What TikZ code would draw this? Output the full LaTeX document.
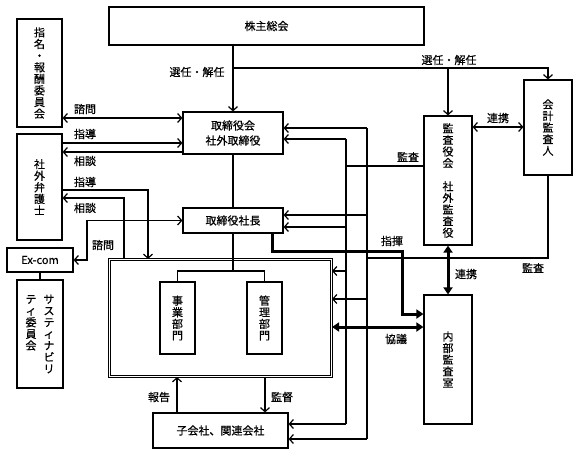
\documentclass[tikz,border=0pt]{standalone}
\usepackage{fontspec}
\newfontfamily\jp[FakeBold=0.5]{Noto Sans CJK JP}
\usetikzlibrary{arrows.meta}
\newcommand\jpf{\jp\fontsize{11}{11.6}\selectfont}
\begin{document}
\begin{tikzpicture}[x=1pt,y=-1pt]
\tikzset{
  box/.style={draw, line width=1.2pt, inner sep=0pt, font=\jpf, align=center},
  lbl/.style={font=\jpf, inner sep=0pt},
  ln/.style={line width=1.2pt},
  ar/.style={ln, -{Straight Barb[length=4pt,width=9pt]}},
  dar/.style={ln, {Straight Barb[length=4pt,width=9pt]}-{Straight Barb[length=4pt,width=9pt]}},
  tk/.style={line width=3pt, -{Triangle[length=7pt,width=9pt]}},
  dtk/.style={line width=3pt, {Triangle[length=7pt,width=9pt]}-{Triangle[length=7pt,width=9pt]}},
}
\fill[white] (0,0) rectangle (580,456);
\useasboundingbox (0,0) rectangle (580,456);

% nodes
\node[box, minimum width=315pt, minimum height=38pt] (sh) at (266.5,26) {株主総会};
\node[box, minimum width=45pt, minimum height=108pt] (nom) at (39.5,73) {指\\名\\・\\報\\酬\\委\\員\\会};
\node[box, minimum width=45pt, minimum height=106pt] (law) at (39.5,187) {社\\外\\弁\\護\\士};
\node[box, minimum width=66pt, minimum height=24pt] (exc) at (40,260) {Ex-com};
\node[box, minimum width=46pt, minimum height=108pt] (sus) at (40,334)
  {\parbox[t]{12pt}{\centering テ\\ィ\\委\\員\\会}\hspace{6pt}\parbox[t]{12pt}{\centering サ\\ス\\テ\\ィ\\ナ\\ビ\\リ}};
\node[box, minimum width=100pt, minimum height=42pt, font={\jp\fontsize{11}{15}\selectfont}] (bd) at (233,133) {取締役会\\社外取締役};
\node[box, minimum width=100pt, minimum height=25pt] (pres) at (233,220.5) {取締役社長};
\node[draw, line width=1.1pt, double, double distance=1.2pt, minimum width=222pt, minimum height=117pt, inner sep=0pt] (big) at (220.5,318) {};
\node[box, minimum width=35pt, minimum height=72pt] (biz) at (177.5,318) {事\\業\\部\\門};
\node[box, minimum width=35pt, minimum height=72pt] (adm) at (264.5,318) {管\\理\\部\\門};
\node[box, minimum width=135pt, minimum height=35pt] (sub) at (220.5,430.5) {子会社、関連会社};
\node[box, minimum width=48pt, minimum height=129pt] (kan) at (448,180.5) {監\\査\\役\\会\\[11.6pt]社\\外\\監\\査\\役};
\node[box, minimum width=48pt, minimum height=95pt] (acc) at (548,127.5) {会\\計\\監\\査\\人};
\node[box, minimum width=48pt, minimum height=129pt] (ia) at (448,359.5) {内\\部\\監\\査\\室};

% election
\coordinate (j1) at (233,68);
\draw[ar] (sh.south -| bd.north) -- (bd.north);
\draw[ar] (j1) -| (acc.north);
\draw[ar] (j1 -| kan.north) -- (kan.north);
\node[lbl] (l1) at (197,72) {選任・解任};
\node[lbl] (l2) at (449,60) {選任・解任};

% left side
\draw[dar] (nom.east |- 0,118) -- (bd.west |- 0,118);
\node[lbl] (l3) at (85,109) {諮問};
\draw[ar] (law.east |- 0,143) -- (bd.west |- 0,143);
\node[lbl] (l4) at (85,134) {指導};
\draw[ar] (bd.west |- 0,152) -- (law.east |- 0,152);
\node[lbl] (l5) at (85,161) {相談};
\draw[ar] (law.east |- 0,190) -| (big.north -| 148,0);
\node[lbl] (l6) at (85,182) {指導};
\draw[ar] (big.north -| 124,0) |- (law.east |- 0,198);
\node[lbl] (l7) at (85,208) {相談};
\draw[dar] (pres.west) -- (pres.west -| 87,0) |- (exc.east);
\node[lbl] (l8) at (103,245) {諮問};
\draw[ln] (exc.south) -- (sus.north);

% center
\draw[ln] (bd.south) -- (pres.north);
\coordinate (j2) at (233,271);
\draw[ln] (pres.south) -- (j2);
\draw[ln] (biz.north) |- (j2) -| (adm.north);
\draw[ar] (sub.north -| 177,0) -- (big.south -| 177,0);
\node[lbl] (l9) at (159,397) {報告};
\draw[ar] (big.south -| 265,0) -- (sub.north -| 265,0);
\node[lbl] (l10) at (282,397) {監督};

% audit lines
\coordinate (a1) at (346,139);
\coordinate (a2) at (346,424);
\coordinate (b1) at (367,128);
\coordinate (b2) at (367,439);
\draw[ln] (a1) -- (a2);
\draw[ln] (b1) -- (b2);
\draw[ar] (a1) -- (bd.east |- a1);
\draw[ar] (346,227) -- (pres.east |- 0,227);
\draw[ar] (346,271) -- (big.east |- 0,271);
\draw[ar] (a2) -- (sub.east |- a2);
\draw[ar] (b1) -- (bd.east |- b1);
\draw[ar] (367,215) -- (pres.east |- 0,215);
\draw[ar] (367,299) -- (big.east |- 0,299);
\draw[ar] (b2) -- (sub.east |- b2);
\draw[ln] (kan.west |- 0,166) -- (346,166);
\node[lbl] (l11) at (408,157) {監査};
\draw[ln] (acc.south) |- (367,258);
\node[lbl] (l12) at (533,268) {監査};

% cooperation
\draw[dar] (kan.east |- 0,127) -- (acc.west |- 0,127);
\node[lbl] (l13) at (498,118) {連携};
\draw[dtk] (kan.south) -- (ia.north);
\node[lbl] (l14) at (466,274) {連携};

% command
\draw[tk] (pres.south -| 272,0) -- (272,251) -- (402,251) -- (402,314) -- (ia.west |- 0,314);
\node[lbl] (l15) at (392,241) {指揮};
\draw[dtk] (big.east |- 0,327) -- (ia.west |- 0,327);
\node[lbl] (l16) at (396,339) {協議};
\end{tikzpicture}
\end{document}
